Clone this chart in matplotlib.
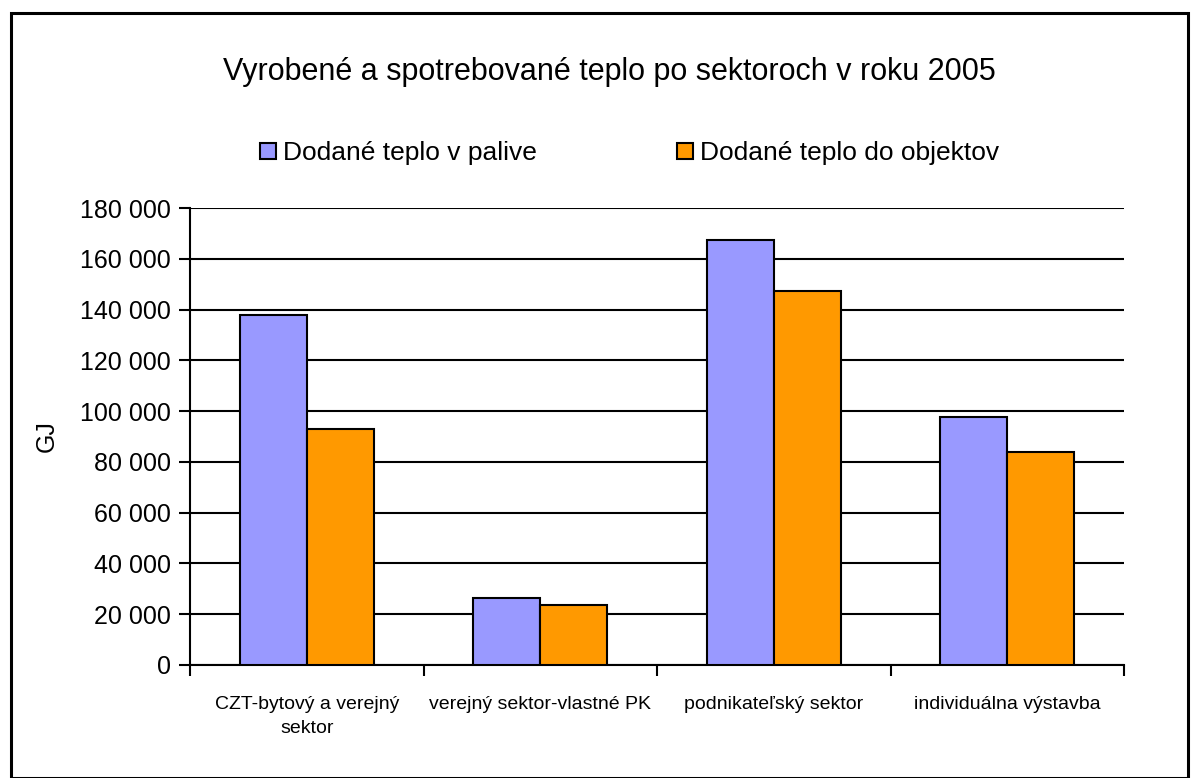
import matplotlib
matplotlib.use("Agg")
import matplotlib.pyplot as plt
from matplotlib.patches import Rectangle, Patch
from matplotlib.ticker import FuncFormatter, FixedLocator
import numpy as np

categories = ["CZT-bytový a verejný\nsektor", "verejný sektor-vlastné PK",
              "podnikateľský sektor", "individuálna výstavba"]
palivo = [138000, 26500, 167500, 97500]
objekty = [93000, 23500, 147500, 84000]
series_names = ["Dodané teplo v palive", "Dodané teplo do objektov"]
title = "Vyrobené a spotrebované teplo po sektoroch v roku 2005"

plt.rcParams['font.family'] = ['Liberation Sans', 'DejaVu Sans']

fig = plt.figure(figsize=(11.99, 7.78), dpi=100)
ax = fig.add_axes([190/1199, 113/778, 934/1199, 457/778])

x = np.arange(len(categories))
w = 0.287
ax.bar(x - w/2, palivo, w, color="#9999FF", edgecolor="black", linewidth=1.5, zorder=3)
ax.bar(x + w/2, objekty, w, color="#FF9900", edgecolor="black", linewidth=1.5, zorder=3)

ax.set_xlim(-0.5, 3.5)
ax.set_ylim(0, 180000)
ax.set_yticks(np.arange(0, 180001, 20000))
ax.yaxis.set_major_formatter(FuncFormatter(lambda v, p: f"{int(v):,}".replace(",", " ")))
ax.grid(axis="y", color="black", linewidth=1.5, zorder=0)
ax.set_axisbelow(True)
for s in ["top", "right"]:
    ax.spines[s].set_visible(False)
ax.spines["left"].set_linewidth(1.5)
ax.spines["bottom"].set_linewidth(1.5)
ax.tick_params(axis="y", length=8, width=1.5, labelsize=18, pad=6)
ax.set_xticks(x)
ax.set_xticklabels(categories, fontsize=14, family=['Liberation Sans Narrow', 'Liberation Sans'],
                   linespacing=1.6)
ax.tick_params(axis="x", which="major", length=0, pad=22)
ax.xaxis.set_minor_locator(FixedLocator(np.arange(-0.5, 4.0, 1.0)))
ax.tick_params(axis="x", which="minor", length=8, width=1.5)
ax.set_ylabel("GJ", fontsize=18)
ax.yaxis.set_label_coords(-0.140, 0.5)

fig.text(0.508, 0.907, title, ha="center", va="center", fontsize=22)

handles = [Patch(facecolor="#9999FF", edgecolor="black", linewidth=1.5),
           Patch(facecolor="#FF9900", edgecolor="black", linewidth=1.5)]
fig.legend(handles, series_names, loc="center", bbox_to_anchor=(0.525, 0.803), ncol=2,
           frameon=False, fontsize=19, handlelength=0.6, handleheight=0.6,
           handletextpad=0.27, columnspacing=5.3)

fig.patches.append(Rectangle((11/1199, 0.0), 1177/1199, (778-13)/778, transform=fig.transFigure,
                             fill=False, edgecolor="black", linewidth=2.2))

fig.savefig("out.png", dpi=100)
